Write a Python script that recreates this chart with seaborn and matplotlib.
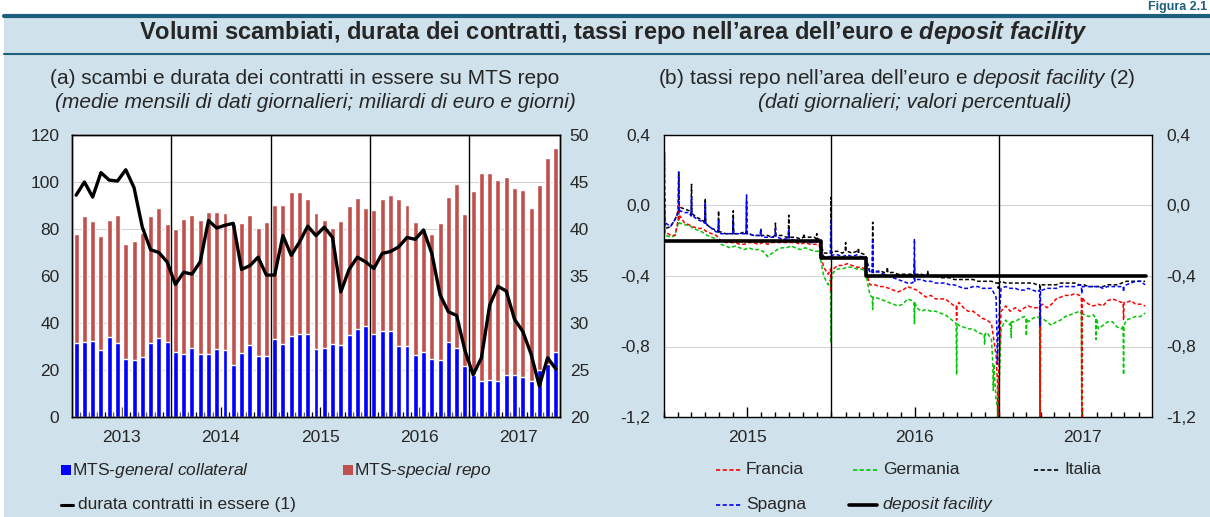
import numpy as np
import pandas as pd
import matplotlib
matplotlib.use('Agg')
import matplotlib.pyplot as plt
import matplotlib.dates as mdates
from matplotlib.lines import Line2D
from matplotlib.patches import Rectangle
from matplotlib.ticker import FixedLocator, FuncFormatter, NullFormatter
import seaborn as sns

# ---------------- panel (a): MTS repo, monthly averages Jan 2013 - Nov 2017
year_labels_a = ['2013', '2014', '2015', '2016', '2017']
gc_vol = [31.5, 32.1, 32.4, 28.6, 34.1, 31.5, 24.7, 24.1, 25.4, 31.3, 33.7, 32.0,
          27.8, 26.8, 29.4, 26.6, 26.8, 29.0, 28.3, 22.2, 27.1, 30.5, 25.9, 25.9,
          33.2, 31.2, 34.6, 35.4, 35.4, 28.9, 29.4, 31.2, 30.6, 34.8, 37.3, 38.9,
          35.4, 36.8, 36.7, 30.4, 30.3, 26.3, 27.7, 24.7, 24.3, 31.8, 29.4, 21.7,
          17.9, 15.5, 15.8, 15.5, 18.0, 17.8, 17.2, 15.5, 20.0, 22.6, 27.8]
special_vol = [46.3, 53.3, 51.1, 48.4, 49.7, 54.3, 48.9, 51.0, 53.0, 54.2, 55.4, 50.1,
               52.2, 57.4, 56.7, 57.1, 60.6, 58.2, 58.5, 59.8, 55.3, 55.4, 54.5, 57.2,
               56.9, 58.9, 61.1, 60.3, 57.4, 57.7, 54.5, 49.3, 52.8, 55.1, 55.7, 50.0,
               52.7, 55.8, 57.6, 62.2, 59.8, 56.5, 51.8, 53.1, 58.1, 61.7, 69.6, 64.5,
               78.3, 88.5, 88.2, 85.5, 84.0, 79.5, 79.4, 73.6, 78.6, 87.8, 86.8]
durata = [43.6, 45.0, 43.4, 46.0, 45.2, 45.1, 46.3, 44.4, 40.2, 37.8, 37.5, 36.5,
          34.1, 35.4, 35.2, 36.5, 40.9, 40.1, 40.4, 40.6, 35.7, 36.1, 37.0, 35.1,
          35.1, 39.3, 37.2, 38.6, 40.3, 39.3, 40.2, 39.1, 33.3, 35.7, 37.0, 36.5,
          35.8, 37.4, 37.6, 38.1, 39.1, 38.9, 39.9, 37.4, 33.0, 31.2, 30.8, 27.1,
          24.5, 26.3, 31.9, 33.9, 33.4, 30.4, 29.1, 26.7, 23.3, 26.3, 25.1]

# ---------------- panel (b): repo rates, read on the 5th/15th/25th of each month
# (Jan 2015 - Nov 2017) plus month-end spikes (date, peak, level around it)
italia = [-0.13, -0.12, -0.08, -0.01, -0.02, -0.03, -0.05, -0.07, -0.08, -0.11, -0.13, -0.14,
          -0.15, -0.16, -0.16, -0.16, -0.16, -0.15, -0.16, -0.17, -0.17, -0.17, -0.17, -0.18,
          -0.17, -0.17, -0.18, -0.18, -0.18, -0.19, -0.18, -0.18, -0.18, -0.19, -0.27, -0.27,
          -0.26, -0.26, -0.27, -0.26, -0.27, -0.26, -0.27, -0.28, -0.38, -0.38, -0.37, -0.38,
          -0.38, -0.38, -0.39, -0.39, -0.39, -0.39, -0.39, -0.39, -0.40, -0.40, -0.40, -0.41,
          -0.41, -0.41, -0.42, -0.42, -0.42, -0.42, -0.42, -0.43, -0.43, -0.43, -0.43, -0.44,
          -0.43, -0.44, -0.44, -0.44, -0.44, -0.44, -0.44, -0.44, -0.45, -0.45, -0.45, -0.45,
          -0.45, -0.44, -0.44, -0.44, -0.44, -0.45, -0.45, -0.46, -0.46, -0.46, -0.46, -0.45,
          -0.45, -0.45, -0.44, -0.43, -0.43, -0.43, -0.43, -0.43]
spagna = [-0.10, -0.12, -0.08, -0.03, -0.04, -0.04, -0.06, -0.08, -0.09, -0.11, -0.13, -0.15,
          -0.16, -0.16, -0.16, -0.16, -0.16, -0.16, -0.16, -0.17, -0.17, -0.18, -0.18, -0.18,
          -0.18, -0.19, -0.19, -0.19, -0.20, -0.20, -0.20, -0.21, -0.21, -0.20, -0.29, -0.29,
          -0.28, -0.28, -0.29, -0.28, -0.29, -0.28, -0.29, -0.29, -0.38, -0.37, -0.38, -0.39,
          -0.40, -0.41, -0.42, -0.43, -0.44, -0.44, -0.42, -0.42, -0.43, -0.43, -0.44, -0.44,
          -0.44, -0.45, -0.45, -0.46, -0.47, -0.47, -0.46, -0.46, -0.47, -0.47, -0.47, -0.52,
          -0.47, -0.46, -0.47, -0.47, -0.48, -0.48, -0.47, -0.48, -0.49, -0.48, -0.47, -0.47,
          -0.47, -0.46, -0.46, -0.46, -0.46, -0.45, -0.46, -0.46, -0.46, -0.46, -0.47, -0.46,
          -0.46, -0.46, -0.46, -0.45, -0.44, -0.43, -0.43, -0.45]
francia = [-0.15, -0.17, -0.17, -0.06, -0.10, -0.11, -0.12, -0.13, -0.13, -0.15, -0.16, -0.17,
           -0.20, -0.21, -0.21, -0.21, -0.22, -0.22, -0.21, -0.21, -0.22, -0.21, -0.22, -0.21,
           -0.21, -0.21, -0.21, -0.21, -0.21, -0.22, -0.21, -0.22, -0.22, -0.22, -0.35, -0.39,
           -0.36, -0.34, -0.34, -0.33, -0.34, -0.35, -0.35, -0.36, -0.45, -0.45, -0.46, -0.46,
           -0.47, -0.48, -0.49, -0.48, -0.46, -0.47, -0.48, -0.50, -0.52, -0.51, -0.53, -0.53,
           -0.53, -0.55, -0.57, -0.55, -0.58, -0.60, -0.60, -0.62, -0.64, -0.65, -0.67, -0.85,
           -0.60, -0.57, -0.60, -0.58, -0.60, -0.58, -0.57, -0.58, -0.58, -0.56, -0.58, -0.56,
           -0.53, -0.52, -0.51, -0.51, -0.50, -0.51, -0.54, -0.56, -0.57, -0.56, -0.57, -0.54,
           -0.53, -0.54, -0.55, -0.55, -0.54, -0.56, -0.56, -0.57]
germania = [-0.17, -0.18, -0.17, -0.10, -0.11, -0.11, -0.13, -0.14, -0.15, -0.17, -0.18, -0.19,
            -0.22, -0.23, -0.24, -0.23, -0.24, -0.25, -0.24, -0.25, -0.25, -0.26, -0.29, -0.27,
            -0.25, -0.24, -0.24, -0.23, -0.24, -0.25, -0.24, -0.25, -0.26, -0.26, -0.40, -0.45,
            -0.38, -0.36, -0.36, -0.35, -0.35, -0.36, -0.36, -0.37, -0.51, -0.52, -0.53, -0.54,
            -0.55, -0.56, -0.57, -0.56, -0.53, -0.54, -0.58, -0.60, -0.59, -0.60, -0.60, -0.61,
            -0.62, -0.64, -0.66, -0.68, -0.69, -0.70, -0.70, -0.72, -0.73, -0.72, -0.76, -1.10,
            -0.70, -0.65, -0.68, -0.66, -0.64, -0.63, -0.66, -0.64, -0.63, -0.64, -0.66, -0.68,
            -0.66, -0.65, -0.63, -0.62, -0.61, -0.60, -0.62, -0.63, -0.62, -0.70, -0.68, -0.66,
            -0.66, -0.69, -0.70, -0.65, -0.64, -0.63, -0.63, -0.61]

italia_spikes = [('2015-01-02', 0.30, -0.10), ('2015-02-02', 0.19, -0.03), ('2015-03-02', 0.12, -0.05),
                 ('2015-04-01', 0.04, -0.10), ('2015-04-30', -0.03, -0.15), ('2015-06-01', -0.03, -0.16),
                 ('2015-06-30', 0.02, -0.16), ('2015-07-31', -0.13, -0.17), ('2015-09-01', -0.10, -0.17),
                 ('2015-09-30', -0.055, -0.18), ('2015-11-02', -0.16, -0.18), ('2015-11-30', -0.16, -0.19),
                 ('2015-12-31', 0.046, -0.27), ('2016-02-01', -0.21, -0.26), ('2016-02-29', -0.24, -0.27),
                 ('2016-03-31', -0.095, -0.38), ('2016-05-02', -0.35, -0.38), ('2016-06-30', -0.32, -0.39),
                 ('2016-07-29', -0.37, -0.40), ('2016-12-30', -0.47, -0.44), ('2017-03-31', -0.48, -0.45)]
spagna_spikes = [('2015-01-02', -0.05, -0.10), ('2015-02-02', 0.19, -0.04), ('2015-03-02', 0.05, -0.06),
                 ('2015-04-01', 0.02, -0.10), ('2015-04-30', -0.08, -0.15), ('2015-06-01', -0.08, -0.16),
                 ('2015-06-30', 0.06, -0.16), ('2015-07-31', -0.14, -0.17), ('2015-09-01', -0.13, -0.18),
                 ('2015-09-30', -0.14, -0.19), ('2015-12-31', -0.09, -0.29), ('2016-03-31', -0.20, -0.38),
                 ('2016-06-30', -0.19, -0.43), ('2016-12-28', -0.90, -0.75), ('2017-03-31', -0.68, -0.48),
                 ('2017-06-30', -0.50, -0.46), ('2017-09-29', -0.49, -0.46)]
francia_spikes = [('2015-01-02', 0.05, -0.15), ('2015-02-02', 0.00, -0.08), ('2015-12-31', -0.49, -0.36),
                  ('2016-09-30', -0.65, -0.57), ('2016-12-29', -1.35, -1.00), ('2017-03-31', -1.35, -0.57),
                  ('2017-06-30', -1.35, -0.52), ('2017-09-29', -0.65, -0.55)]
germania_spikes = [('2015-01-02', 0.00, -0.17), ('2015-02-02', -0.04, -0.10), ('2015-12-31', -0.78, -0.42),
                   ('2016-03-31', -0.59, -0.52), ('2016-06-30', -0.67, -0.55), ('2016-09-30', -0.96, -0.67),
                   ('2016-11-30', -0.79, -0.73), ('2016-12-19', -1.05, -0.90), ('2016-12-29', -1.35, -1.15),
                   ('2017-01-27', -0.75, -0.66), ('2017-03-01', -0.74, -0.64), ('2017-03-31', -1.35, -0.64),
                   ('2017-06-30', -1.18, -0.61), ('2017-07-31', -0.76, -0.64), ('2017-09-29', -0.96, -0.68)]

dep_dates = ['2015-01-01', '2015-12-09', '2016-03-16', '2017-11-17']
dep_rate = [-0.20, -0.30, -0.40, -0.40]
year_labels_b = ['2015', '2016', '2017']

# ---------------- style
BG = '#cfe1ea'
TEAL = '#1d5f7c'
RED_BAR = '#c0504d'
sns.set_theme(style='white')
plt.rcParams['font.family'] = ['Liberation Sans', 'DejaVu Sans']
plt.rcParams['mathtext.fontset'] = 'custom'
plt.rcParams['mathtext.rm'] = 'Liberation Sans'
plt.rcParams['mathtext.it'] = 'Liberation Sans:italic'
plt.rcParams['mathtext.bf'] = 'Liberation Sans:bold'
plt.rcParams['mathtext.bfit'] = 'Liberation Sans:italic:bold'

TICK_FS = 12.5
LEG_FS = 12.5
SUB_FS = 15

W, H = 1210, 517
fig = plt.figure(figsize=(12.1, 5.17), dpi=100, facecolor='white')


def fx(px):
    return px / W


def fy(py):
    return 1 - py / H


fig.patches.append(Rectangle((fx(4), 0), 1, fy(17), transform=fig.transFigure,
                             facecolor=BG, edgecolor='none', zorder=-5))
fig.add_artist(Line2D([fx(4), 1], [fy(16), fy(16)], color=TEAL, lw=3))
fig.add_artist(Line2D([fx(4), 1], [fy(54), fy(54)], color=TEAL, lw=1.5))
fig.text(0.998, 0.999, 'Figura 2.1', ha='right', va='top', color=TEAL,
         fontsize=9, fontweight='bold')
fig.text(fx(613), fy(33),
         r'Volumi scambiati, durata dei contratti, tassi repo nell’area dell’euro e $\mathbfit{deposit\ facility}$',
         ha='center', va='center', fontsize=17, fontweight='bold')

# ---------------- panel (a)
ax = fig.add_axes([fx(72), fy(417), fx(560) - fx(72), fy(135) - fy(417)])
months_a = pd.period_range('2013-01', '2017-11', freq='M').astype(str)
df_a = pd.DataFrame({'month': months_a, 'gc': gc_vol, 'special': special_vol})
df_a['total'] = df_a['gc'] + df_a['special']

sns.barplot(data=df_a, x='month', y='total', color=RED_BAR, saturation=1, width=0.6, ax=ax)
sns.barplot(data=df_a, x='month', y='gc', color='#0000ff', saturation=1, width=0.6, ax=ax)
n = len(df_a)
ax.set_xlim(-0.5, n - 0.5)
ax.set_ylim(0, 120)
ax.set_yticks(np.arange(0, 121, 20))
ax.yaxis.grid(True, color='#d4d4d4', lw=0.8)
ax.set_axisbelow(True)
for b in [11.5, 23.5, 35.5, 47.5]:
    ax.axvline(b, color='black', lw=1, zorder=3)
ax.xaxis.set_major_locator(FixedLocator([5.5 + 12 * k for k in range(5)]))
ax.set_xticklabels(year_labels_a)
ax.xaxis.set_minor_locator(FixedLocator([k + 0.5 for k in range(n - 1)]))
ax.tick_params(axis='x', which='major', direction='in', length=7, width=1, pad=9,
               labelsize=TICK_FS, color='black', bottom=True)
ax.tick_params(axis='x', which='minor', direction='in', length=3.5, width=1, color='black', bottom=True)
ax.tick_params(axis='y', length=0, pad=9, labelsize=TICK_FS)
ax.set_xlabel('')
ax.set_ylabel('')

ax2 = ax.twinx()
sns.lineplot(x=np.arange(n), y=durata, color='black', lw=2.4, ax=ax2)
ax2.set_ylim(20, 50)
ax2.set_yticks(np.arange(20, 51, 5))
ax2.tick_params(axis='y', length=0, pad=7, labelsize=TICK_FS)
for a in (ax, ax2):
    for s in a.spines.values():
        s.set_color('black')
        s.set_linewidth(1)

# ---------------- panel (b)
months_b = pd.period_range('2015-01', '2017-11', freq='M')
base_dates = [pd.Timestamp(p.year, p.month, d) for p in months_b for d in (5, 15, 25)][:-1]


def build(vals, spikes):
    d = list(base_dates)
    v = list(vals)
    for day, peak, lvl in spikes:
        t = pd.Timestamp(day)
        d += [t - pd.Timedelta(days=1), t, t + pd.Timedelta(days=1)]
        v += [lvl, peak, lvl]
    return pd.DataFrame({'date': d, 'rate': v}).sort_values('date')


bx = fig.add_axes([fx(664), fy(417), fx(1152) - fx(664), fy(135) - fy(417)])
series_b = [('Italia', italia, italia_spikes, 'black'),
            ('Germania', germania, germania_spikes, '#00c800'),
            ('Francia', francia, francia_spikes, '#ff0000'),
            ('Spagna', spagna, spagna_spikes, '#0000ff')]
for name, vals, spk, col in series_b:
    sns.lineplot(data=build(vals, spk), x='date', y='rate', color=col, lw=1.1,
                 linestyle=(0, (2.5, 1.5)), estimator=None, ax=bx)
df_dep = pd.DataFrame({'date': pd.to_datetime(dep_dates), 'rate': dep_rate})
sns.lineplot(data=df_dep, x='date', y='rate', color='black', lw=2.6,
             drawstyle='steps-post', estimator=None, ax=bx)

bx.set_xlim(pd.Timestamp('2015-01-01'), pd.Timestamp('2017-11-30'))
bx.set_ylim(-1.2, 0.4)
bx.set_yticks([-1.2, -0.8, -0.4, 0.0, 0.4])
bx.yaxis.set_major_formatter(FuncFormatter(lambda v, p: f'{v:.1f}'.replace('.', ',')))
bx.yaxis.grid(True, color='#d4d4d4', lw=0.8)
bx.set_axisbelow(True)
for yr in ['2016-01-01', '2017-01-01']:
    bx.axvline(pd.Timestamp(yr), color='black', lw=1, zorder=3)
bx.xaxis.set_major_locator(mdates.MonthLocator(bymonth=7, bymonthday=1))
bx.xaxis.set_major_formatter(mdates.DateFormatter('%Y'))
bx.xaxis.set_minor_locator(mdates.MonthLocator(bymonthday=1))
bx.xaxis.set_minor_formatter(NullFormatter())
bx.tick_params(axis='x', which='major', direction='in', length=7, width=1, pad=9,
               labelsize=TICK_FS, color='black', bottom=True)
bx.tick_params(axis='x', which='minor', direction='in', length=3.5, width=1, color='black', bottom=True)
bx.tick_params(axis='y', length=0, pad=10, labelsize=TICK_FS, labelright=True)
bx.set_xlabel('')
bx.set_ylabel('')
for s in bx.spines.values():
    s.set_color('black')
    s.set_linewidth(1)

# ---------------- subtitles
fig.text(fx(305), fy(78), '(a) scambi e durata dei contratti in essere su MTS repo',
         ha='center', va='center', fontsize=SUB_FS)
fig.text(fx(315), fy(103), '(medie mensili di dati giornalieri; miliardi di euro e giorni)',
         ha='center', va='center', fontsize=SUB_FS, fontstyle='italic')
fig.text(fx(897), fy(78), r'(b) tassi repo nell’area dell’euro e $\mathit{deposit\ facility}$ (2)',
         ha='center', va='center', fontsize=SUB_FS)
fig.text(fx(915), fy(103), '(dati giornalieri; valori percentuali)',
         ha='center', va='center', fontsize=SUB_FS, fontstyle='italic')


# ---------------- legends (drawn by hand at the reference positions)
def leg_box(x, y, col, label):
    fig.patches.append(Rectangle((fx(x), fy(y + 5)), fx(10), fy(0) - fy(10),
                                 transform=fig.transFigure, facecolor=col, edgecolor='none'))
    fig.text(fx(x + 11), fy(y), label, ha='left', va='center', fontsize=LEG_FS)


def leg_line(x0, x1, y, col, label, ls='-', lw=1.2):
    fig.add_artist(Line2D([fx(x0), fx(x1)], [fy(y), fy(y)], color=col, lw=lw, linestyle=ls))
    fig.text(fx(x1 + 5), fy(y), label, ha='left', va='center', fontsize=LEG_FS)


dash = (0, (2.5, 1.5))
leg_box(61, 470, '#0000ff', r'MTS-$\mathit{general\ collateral}$')
leg_box(343, 470, RED_BAR, r'MTS-$\mathit{special\ repo}$')
leg_line(61, 73, 505, 'black', 'durata contratti in essere (1)', lw=2.2)
leg_line(716, 741, 470, '#ff0000', 'Francia', ls=dash)
leg_line(853, 878, 470, '#00c800', 'Germania', ls=dash)
leg_line(1034, 1059, 470, 'black', 'Italia', ls=dash)
leg_line(716, 741, 505, '#0000ff', 'Spagna', ls=dash)
leg_line(849, 877, 505, 'black', r'$\mathit{deposit\ facility}$', lw=2.6)

fig.savefig('out.png', dpi=100, facecolor=fig.get_facecolor())
